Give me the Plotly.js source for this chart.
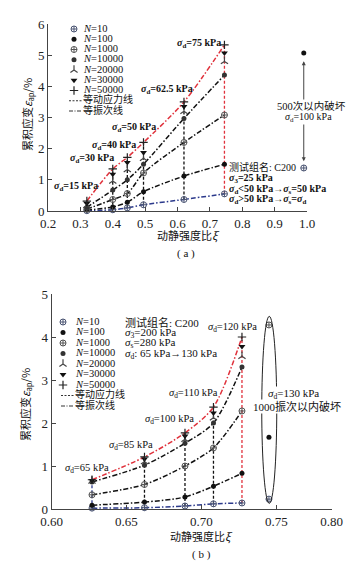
<!DOCTYPE html>
<html>
<head>
<meta charset="utf-8">
<script src="https://cdn.plot.ly/plotly-3.0.1.min.js"></script>
<style>html,body{margin:0;padding:0;background:#fff;}#chart{width:355px;height:572px;}</style>
</head>
<body>
<div id="chart"></div>
<script>
// ---------- data: panel (a) ----------
const xiA = [0.32, 0.40, 0.445, 0.495, 0.62, 0.745];
const sdA = ['15', '30', '40', '50', '62.5', '75'];
const aN10    = [0.01, 0.04, 0.10, 0.20, 0.37, 0.55];
const aN100   = [0.03, 0.13, 0.28, 0.62, 1.12, 1.50];
const aN1000  = [0.06, 0.37, 0.56, 1.22, 2.20, 3.08];
const aN10000 = [0.12, 0.67, 1.00, 1.50, 2.97, 4.36];
const aN20000 = [0.18, 0.96, 1.33, 1.69, 3.20, 4.80];
const aN30000 = [0.24, 1.18, 1.56, 1.88, 3.35, 5.07];
const aN50000 = [0.32, 1.35, 1.72, 2.20, 3.50, 5.33];
const xiFailA = [0.99];
const aFailN10 = [1.38];
const aFailN100 = [5.07];

// ---------- data: panel (b) ----------
const xiB = [0.627, 0.662, 0.689, 0.708, 0.727];
const sdB = ['65', '85', '100', '110', '120'];
const bN10    = [0.02, 0.03, 0.07, 0.12, 0.14];
const bN100   = [0.09, 0.16, 0.28, 0.53, 0.83];
const bN1000  = [0.33, 0.57, 1.00, 1.42, 2.28];
const bN10000 = [0.63, 1.02, 1.53, 2.00, 3.30];
const bN20000 = [0.65, 1.10, 1.62, 2.12, 3.55];
const bN30000 = [0.66, 1.16, 1.70, 2.23, 3.78];
const bN50000 = [0.68, 1.21, 1.77, 2.37, 4.00];
const xiFailB = [0.745];
const bFailN10 = [0.23];
const bFailN100 = [1.67];
const bFailN1000 = [4.28];

// ---------- ticks ----------
const xTicksA = [0.2, 0.3, 0.4, 0.5, 0.6, 0.7, 0.8, 0.9, 1.0];
const xTickTextA = ['0.2', '0.3', '0.4', '0.5', '0.6', '0.7', '0.8', '0.9', '1.0'];
const yTicksA = [0, 1, 2, 3, 4, 5, 6];
const xTicksB = [0.60, 0.65, 0.70, 0.75, 0.7867];
const xTickTextB = ['0.60', '0.65', '0.70', '0.75', '0.80'];
const yTicksB = [0, 1, 2, 3, 4, 5];
const nLabels = ['10', '100', '1000', '10000', '20000', '30000', '50000'];

// ---------- styles ----------
const W = 355, H = 572;
const px = v => v / W;
const py = v => 1 - v / H;
const SERIF = 'Liberation Serif, Times New Roman, Noto Sans CJK SC, serif';
const CJK = 'Noto Sans CJK SC, Liberation Serif, serif';
const RED = '#e0323c', NAVY = '#2c3a8c', BLK = '#111111';
const DASHDOT = '5px,2px,1.5px,2px';
const DASH = '3px,2px';
const markerStyles = [
  {symbol: 'circle-cross-open', color: '#4a5472', size: 6, line: {width: 1, color: '#4a5472'}},
  {symbol: 'circle', color: '#111', size: 5},
  {symbol: 'circle-cross-open', color: '#555', size: 6, line: {width: 1, color: '#555'}},
  {symbol: 'circle', color: '#333', size: 5},
  {symbol: 'y-up-open', color: '#444', size: 6, line: {width: 1.2, color: '#444'}},
  {symbol: 'triangle-down', color: '#111', size: 6},
  {symbol: 'cross-thin-open', color: '#222', size: 6, line: {width: 1.2, color: '#222'}}
];

const traces = [];
function panel(xi, series, xa, ya, colColors, curveIdx, curveColors) {
  xi.forEach((x, i) => {
    const vals = series.map(s => s[i]);
    traces.push({x: [x, x], y: [Math.min(...vals), Math.max(...vals)], xaxis: xa, yaxis: ya,
      mode: 'lines', line: {color: colColors[i], width: 1.3, dash: DASH}, hoverinfo: 'skip', showlegend: false});
  });
  curveIdx.forEach((k, j) => {
    traces.push({x: xi, y: series[k], xaxis: xa, yaxis: ya, mode: 'lines',
      line: {color: curveColors[j], width: 1.5, dash: DASHDOT, shape: 'spline', smoothing: 0.8},
      hoverinfo: 'skip', showlegend: false});
  });
  series.forEach((s, k) => {
    traces.push({x: xi, y: s, xaxis: xa, yaxis: ya, mode: 'markers', marker: markerStyles[k],
      name: 'N=' + nLabels[k], showlegend: false, cliponaxis: false});
  });
}
panel(xiA, [aN10, aN100, aN1000, aN10000, aN20000, aN30000, aN50000], 'x', 'y',
  [BLK, BLK, BLK, BLK, BLK, RED], [0, 1, 2, 3, 6], [NAVY, BLK, BLK, BLK, RED]);
panel(xiB, [bN10, bN100, bN1000, bN10000, bN20000, bN30000, bN50000], 'x2', 'y2',
  [NAVY, BLK, BLK, BLK, RED], [0, 1, 2, 3, 6], [NAVY, BLK, BLK, BLK, RED]);
[[aFailN10, 0], [aFailN100, 1]].forEach(([s, k]) => traces.push({x: xiFailA, y: s, xaxis: 'x', yaxis: 'y',
  mode: 'markers', marker: markerStyles[k], showlegend: false, cliponaxis: false}));
[[bFailN10, 0], [bFailN100, 1], [bFailN1000, 2]].forEach(([s, k]) => traces.push({x: xiFailB, y: s, xaxis: 'x2', yaxis: 'y2',
  mode: 'markers', marker: markerStyles[k], showlegend: false, cliponaxis: false}));

// ---------- compact legends drawn on a page-pixel overlay axis (x3/y3) ----------
function legend(top, step, glyphX, textX, lineX0, lineX1) {
  nLabels.forEach((n, k) => {
    const yy = top + step * k;
    traces.push({x: [glyphX], y: [yy], xaxis: 'x3', yaxis: 'y3', mode: 'markers', marker: markerStyles[k],
      showlegend: false, hoverinfo: 'skip', cliponaxis: false});
    traces.push({x: [textX], y: [yy], xaxis: 'x3', yaxis: 'y3', mode: 'text', text: ['<i>N</i>=' + n],
      textposition: 'middle right', textfont: {family: SERIF, size: 10.5, color: '#111'},
      showlegend: false, hoverinfo: 'skip', cliponaxis: false});
  });
  const names = ['等动应力线', '等振次线'];
  const dashes = ['2px,1.5px', '4px,1.5px,1px,1.5px'];
  names.forEach((nm, j) => {
    const yy = top + step * (7 + j);
    traces.push({x: [lineX0, lineX1], y: [yy, yy], xaxis: 'x3', yaxis: 'y3', mode: 'lines',
      line: {color: '#333', width: 1, dash: dashes[j]}, showlegend: false, hoverinfo: 'skip'});
    traces.push({x: [textX - 1], y: [yy], xaxis: 'x3', yaxis: 'y3', mode: 'text', text: [nm],
      textposition: 'middle right', textfont: {family: CJK, size: 10, color: '#111'},
      showlegend: false, hoverinfo: 'skip', cliponaxis: false});
  });
}
legend(29, 10.25, 74, 84, 69, 82);
legend(322, 10.5, 63, 76, 61, 74);

// ---------- annotations (left-anchored at page pixel positions) ----------
const ann = [];
function txt(o) { ann.push(Object.assign({showarrow: false, xref: 'paper', yref: 'paper', xanchor: 'left', yanchor: 'middle',
  font: {family: SERIF, size: 10, color: '#111'}}, o)); }
function at(lx, cy) { return {x: px(lx), y: py(cy)}; }

const labA = [
  {t: '<b><i>σ</i><sub>d</sub>=15 kPa</b>', c: [52, 186]},
  {t: '<b><i>σ</i><sub>d</sub>=30 kPa</b>', c: [68, 158]},
  {t: '<b><i>σ</i><sub>d</sub>=40 kPa</b>', c: [90, 146]},
  {t: '<b><i>σ</i><sub>d</sub>=50 kPa</b>', c: [110, 127]},
  {t: '<b><i>σ</i><sub>d</sub>=62.5 kPa</b>', c: [139, 89]},
  {t: '<b><i>σ</i><sub>d</sub>=75 kPa</b>', c: [175, 43]}
];
labA.forEach(l => txt(Object.assign({text: l.t}, at(l.c[0], l.c[1]))));
txt(Object.assign({text: '测试组名: C200'}, at(227, 167)));
txt(Object.assign({text: '<b><i>σ</i><sub>3</sub>=25 kPa</b>'}, at(227, 178)));
txt(Object.assign({text: '<b><i>σ</i><sub>d</sub>&lt;50 kPa→<i>σ</i><sub>s</sub>=50 kPa</b>'}, at(227, 189)));
txt(Object.assign({text: '<b><i>σ</i><sub>d</sub>&gt;50 kPa→<i>σ</i><sub>s</sub>=<i>σ</i><sub>d</sub></b>'}, at(227, 200)));
ann.push({x: xiFailA[0], y: 1.60, ax: xiFailA[0], ay: 4.85, xref: 'x', yref: 'y', axref: 'x', ayref: 'y',
  text: '', showarrow: true, arrowhead: 2, arrowside: 'end+start', arrowsize: 0.8, arrowwidth: 1, arrowcolor: '#444'});
txt(Object.assign({text: '500次以内破坏', bgcolor: '#fff', borderpad: 0, font: {family: SERIF, size: 10.5, color: '#111'}}, at(276, 106)));
txt(Object.assign({text: '<i>σ</i><sub>d</sub>=100 kPa', bgcolor: '#fff', borderpad: 0}, at(284, 117)));

const F105 = {family: SERIF, size: 10.5, color: '#111'};
const F11 = {family: SERIF, size: 11, color: '#111'};
const labB = [
  {t: '<i>σ</i><sub>d</sub>=65 kPa', c: [63, 468]},
  {t: '<i>σ</i><sub>d</sub>=85 kPa', c: [107, 445]},
  {t: '<i>σ</i><sub>d</sub>=100 kPa', c: [143, 419]},
  {t: '<i>σ</i><sub>d</sub>=110 kPa', c: [167, 393]},
  {t: '<i>σ</i><sub>d</sub>=120 kPa', c: [206, 327]}
];
labB.forEach(l => txt(Object.assign({text: l.t, font: F105}, at(l.c[0], l.c[1]))));
txt(Object.assign({text: '测试组名: C200', font: F11}, at(123, 322)));
txt(Object.assign({text: '<i>σ</i><sub>3</sub>=200 kPa', font: F11}, at(123, 333)));
txt(Object.assign({text: '<i>σ</i><sub>s</sub>=280 kPa', font: F11}, at(123, 343)));
txt(Object.assign({text: '<i>σ</i><sub>d</sub>: 65 kPa→130 kPa', font: F11}, at(123, 354)));
txt(Object.assign({text: '<i>σ</i><sub>d</sub>=130 kPa', bgcolor: '#fff', borderpad: 0, font: F11}, at(267, 394)));
txt(Object.assign({text: '1000振次以内破坏', bgcolor: '#fff', borderpad: 0, font: F11}, at(252, 406)));

const FC = {family: CJK, size: 11, color: '#111'};
txt(Object.assign({text: '动静强度比<i>ξ</i>', font: FC}, at(155, 235)));
txt(Object.assign({text: '动静强度比<i>ξ</i>', font: FC}, at(168, 536)));
txt(Object.assign({text: '累积应变<i>ε</i><sub>ap</sub>/%', textangle: -90, xanchor: 'center', font: FC}, at(27, 115)));
txt(Object.assign({text: '累积应变<i>ε</i><sub>ap</sub>/%', textangle: -90, xanchor: 'center', font: FC}, at(25, 405)));
txt(Object.assign({text: '( a )', font: F11}, at(175, 253)));
txt(Object.assign({text: '( b )', font: F11}, at(190, 554)));

const shapes = [
  {type: 'circle', xref: 'x2', yref: 'y2', x0: 0.7402, x1: 0.7502, y0: 0.13, y1: 4.48, line: {color: '#222', width: 1}}
];

const axisBase = {showline: true, linecolor: '#444', linewidth: 1, ticks: 'inside', ticklen: 4, tickcolor: '#444',
  showgrid: false, zeroline: false, tickfont: {family: SERIF, size: 13, color: '#222'}, fixedrange: true};
const hiddenAxis = {visible: false, showgrid: false, zeroline: false, fixedrange: true};

const layout = {
  width: W, height: H, margin: {l: 0, r: 0, t: 0, b: 0, pad: 0}, paper_bgcolor: '#fff', plot_bgcolor: 'rgba(0,0,0,0)',
  showlegend: false,
  xaxis: Object.assign({}, axisBase, {domain: [px(48), px(307)], range: [0.2, 1.0], tickvals: xTicksA, ticktext: xTickTextA, anchor: 'y'}),
  yaxis: Object.assign({}, axisBase, {domain: [py(211), py(24)], range: [0, 6], tickvals: yTicksA, anchor: 'x'}),
  xaxis2: Object.assign({}, axisBase, {domain: [px(51.5), px(331.5)], range: [0.60, 0.7867], tickvals: xTicksB, ticktext: xTickTextB, anchor: 'y2'}),
  yaxis2: Object.assign({}, axisBase, {domain: [py(509), py(294)], range: [0, 5], tickvals: yTicksB, anchor: 'x2'}),
  xaxis3: Object.assign({}, hiddenAxis, {domain: [0, 1], range: [0, W], anchor: 'y3'}),
  yaxis3: Object.assign({}, hiddenAxis, {domain: [0, 1], range: [H, 0], anchor: 'x3'}),
  annotations: ann,
  shapes: shapes
};
Plotly.newPlot('chart', traces, layout, {staticPlot: true, displayModeBar: false});
</script>
</body>
</html>
